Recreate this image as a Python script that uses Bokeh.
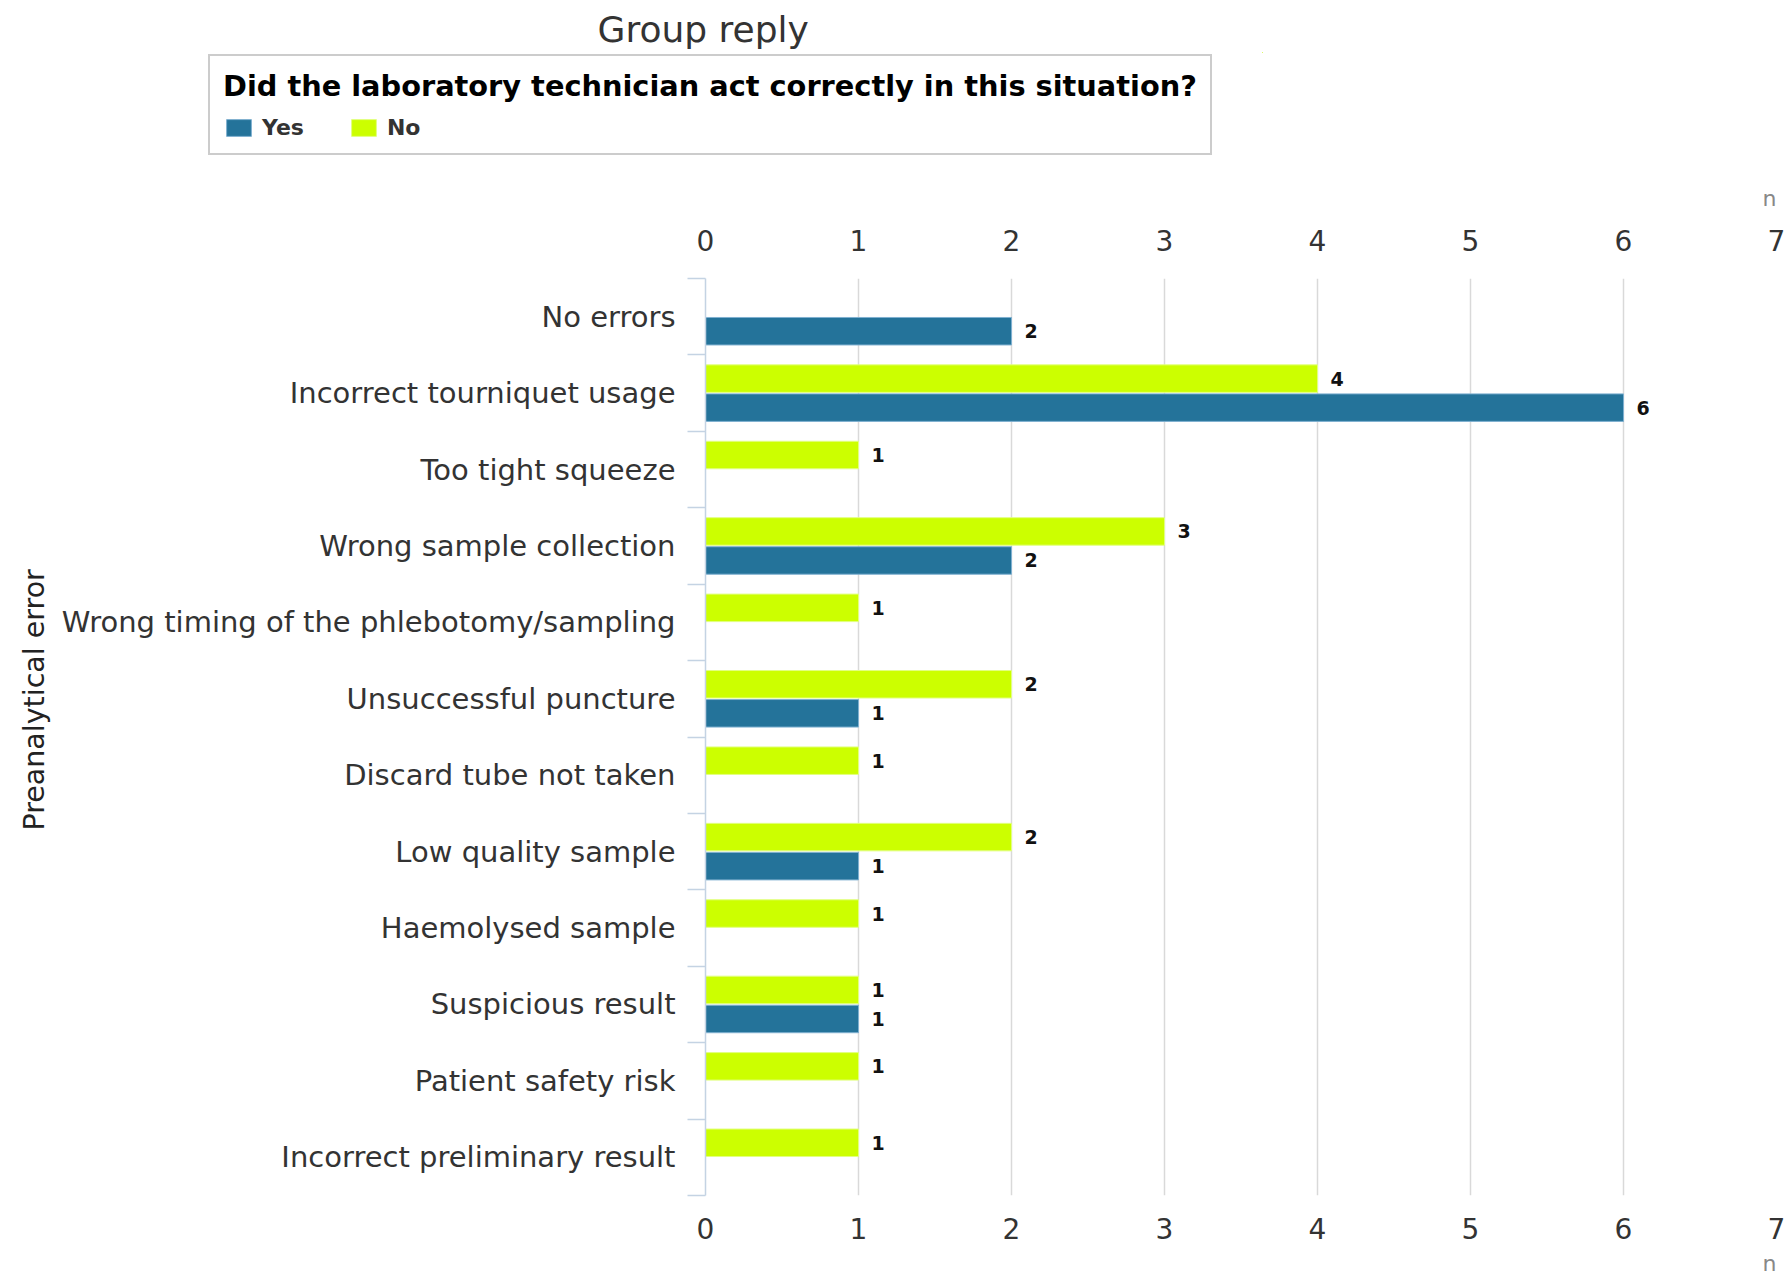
from bokeh.plotting import figure
from bokeh.core.properties import value
from bokeh.models import (ColumnDataSource, FixedTicker, LinearAxis, Range1d, Title,
                          LabelSet, Legend, LegendItem)
from bokeh.embed import file_html
from bokeh.resources import INLINE

# ---------------- data ----------------
categories = [
    "No errors",
    "Incorrect tourniquet usage",
    "Too tight squeeze",
    "Wrong sample collection",
    "Wrong timing of the phlebotomy/sampling",
    "Unsuccessful puncture",
    "Discard tube not taken",
    "Low quality sample",
    "Haemolysed sample",
    "Suspicious result",
    "Patient safety risk",
    "Incorrect preliminary result",
]
yes_counts = [2, 6, 0, 2, 0, 1, 0, 1, 0, 1, 0, 0]
no_counts = [0, 4, 1, 3, 1, 2, 1, 2, 1, 1, 1, 1]
x_ticks = [0, 1, 2, 3, 4, 5, 6, 7]
series_names = ["Yes", "No"]
series_colors = ["#24739a", "#ccff00"]
series_edges = ["#7fb0d0", "#e2ff80"]
chart_title = "Group reply"
legend_title = "Did the laboratory technician act correctly in this situation?"
y_title = "Preanalytical error"
x_unit = "n"

FONT = "DejaVu Sans"

# ---------------- bar sources ----------------
BAR_H = 0.36
OFF = 0.19
n = len(categories)
centers = [n - i - 0.5 for i in range(n)]


def make_source(counts, shift):
    ys, rs, ts = [], [], []
    for c, v in zip(centers, counts):
        if v > 0:
            ys.append(c + shift)
            rs.append(v)
            ts.append(str(v))
    return ColumnDataSource(dict(y=ys, right=rs, txt=ts))


yes_src = make_source(yes_counts, -OFF)
no_src = make_source(no_counts, OFF)
sources = [yes_src, no_src]

# ---------------- header: title + legend ----------------
HW, HH = 1790, 165
header = figure(width=HW, height=HH, output_backend="svg", toolbar_location=None,
                x_range=Range1d(-2, -1), y_range=Range1d(-2, -1),
                x_axis_location=None, y_axis_location=None,
                min_border_left=206, min_border_right=HW - 1262,
                min_border_top=52, min_border_bottom=5,
                title=chart_title)
header.grid.visible = False
header.outline_line_color = None
header.title.align = "left"
header.title.offset = 391
header.title.text_font = FONT
header.title.text_font_size = "36px"
header.title.text_font_style = "normal"
header.title.text_color = "#333333"
header.title.standoff = 6

# legend swatches (the bars lie outside this header's visible range)
legend_renderers = []
for src, col, edge in zip(sources, series_colors, series_edges):
    legend_renderers.append(header.hbar(y="y", left=0, right="right", height=BAR_H, source=src,
                                        fill_color=col, line_color=edge))

legend = Legend(
    items=[LegendItem(label=nm, renderers=[r]) for nm, r in zip(series_names, legend_renderers)],
    title=legend_title, orientation="horizontal", location="top_left",
    title_text_font=FONT, title_text_font_style="bold",
    title_text_font_size="28.8px", title_text_color="#000000", title_standoff=12,
    label_text_font=FONT, label_text_font_style="bold",
    label_text_font_size="22px", label_text_color="#333333",
    glyph_width=31, glyph_height=21, label_height=21, label_standoff=8,
    spacing=44, padding=13, margin=2,
    border_line_color="#9a9a9a", border_line_width=2,
    background_fill_color="white", background_fill_alpha=1.0,
)
header.add_layout(legend)

# ---------------- main chart ----------------
W, H = 1790, 1285 - HH
BL, BR, BT, BB = 705, 14, 278 - HH, 90

p = figure(width=W, height=H, output_backend="svg", toolbar_location=None,
           x_range=Range1d(x_ticks[0], x_ticks[-1]), y_range=Range1d(0, n),
           min_border_left=BL, min_border_right=BR, min_border_top=BT, min_border_bottom=BB)
p.outline_line_color = None

# grid
p.ygrid.visible = False
p.xgrid.ticker = FixedTicker(ticks=x_ticks[1:])
p.xgrid.grid_line_color = "#d9d9d9"
p.xgrid.grid_line_width = 1.5

# left (category) axis
ya = p.yaxis[0]
ya.ticker = FixedTicker(ticks=centers, minor_ticks=list(range(n + 1)))
ya.major_label_overrides = {c: cat for c, cat in zip(centers, categories)}
ya.axis_line_color = "#c4d3e3"
ya.axis_line_width = 1.5
ya.major_tick_out = 0
ya.major_tick_in = 0
ya.major_tick_line_color = None
ya.minor_tick_out = 18
ya.minor_tick_in = 0
ya.minor_tick_line_color = "#c4d3e3"
ya.minor_tick_line_width = 1.5
ya.major_label_standoff = 12
ya.major_label_text_font = FONT
ya.major_label_text_font_size = "29px"
ya.major_label_text_color = "#333333"


def style_x_axis(ax, standoff):
    ax.ticker = FixedTicker(ticks=x_ticks)
    ax.axis_line_color = None
    ax.major_tick_line_color = None
    ax.minor_tick_line_color = None
    ax.major_label_standoff = standoff
    ax.major_label_text_font = FONT
    ax.major_label_text_font_size = "28px"
    ax.major_label_text_color = "#333333"


style_x_axis(p.xaxis[0], 16)
top_axis = LinearAxis()
style_x_axis(top_axis, 22)
p.add_layout(top_axis, "above")

# unit labels "n" at the right end of both value axes
for side, so in (("above", 31), ("below", 14)):
    p.add_layout(Title(text=x_unit, align="right", text_font=FONT, text_font_size="22px",
                       text_font_style="normal", text_color="#888888", standoff=so), side)

# y-axis title
p.add_layout(Title(text=y_title, align="left", offset=365, text_font=FONT,
                   text_font_size="28.5px", text_font_style="normal",
                   text_color="#222222", standoff=16), "left")

# bars
r_no = p.hbar(y="y", left=0, right="right", height=BAR_H, source=no_src,
              fill_color=series_colors[1], line_color=series_edges[1], line_width=1)
r_yes = p.hbar(y="y", left=0, right="right", height=BAR_H, source=yes_src,
               fill_color=series_colors[0], line_color=series_edges[0], line_width=1)

for src in sources:
    p.add_layout(LabelSet(x="right", y="y", text="txt", source=src, x_offset=13,
                          text_baseline="middle", text_align="left",
                          text_font=value(FONT), text_font_style="bold",
                          text_font_size="19px", text_color="#111111"))

open("out.html", "w").write(file_html([header, p], INLINE))
